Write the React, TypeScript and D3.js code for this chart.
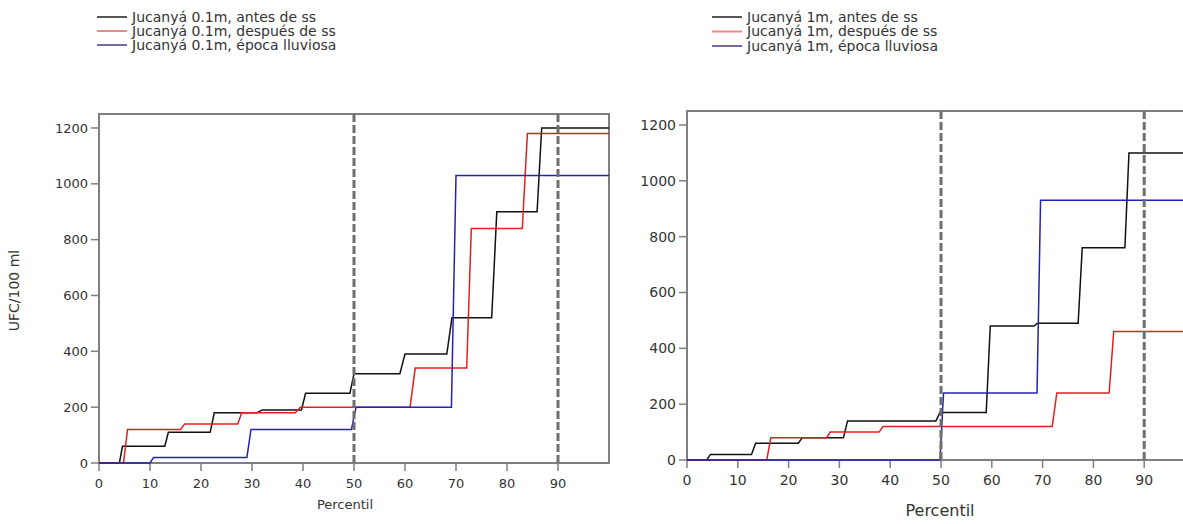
import React from "react";
import * as d3 from "d3";

// percentile breakpoints: [percentil, UFC/100 ml]
const leftAntes: [number, number][] = [[0, 0], [4, 0], [4.6, 60], [12.9, 60], [13.6, 110], [21.8, 110], [22.6, 180], [31, 180], [32, 190], [39.7, 190], [40.5, 250], [49.2, 250], [50, 320], [59, 320], [60, 390], [68.2, 390], [69.2, 520], [77, 520], [78, 900], [85.9, 900], [86.8, 1200], [100, 1200]];
const leftDespues: [number, number][] = [[0, 0], [4.8, 0], [5.6, 120], [16, 120], [16.8, 140], [27.2, 140], [28, 180], [38.5, 180], [39.5, 200], [61, 200], [62, 340], [72.1, 340], [73, 840], [83, 840], [84, 1180], [100, 1180]];
const leftEpoca: [number, number][] = [[0, 0], [10, 0], [10.7, 20], [29, 20], [29.8, 120], [49.5, 120], [50.4, 200], [69.1, 200], [70, 1030], [100, 1030]];

const rightAntes: [number, number][] = [[0, 0], [3.9, 0], [4.6, 20], [12.7, 20], [13.5, 60], [21.9, 60], [22.7, 80], [30.8, 80], [31.6, 140], [49, 140], [49.8, 170], [58.9, 170], [59.7, 480], [68.3, 480], [69, 490], [77, 490], [77.8, 760], [86.2, 760], [87, 1100], [100, 1100]];
const rightDespues: [number, number][] = [[0, 0], [15.7, 0], [16.5, 80], [27.5, 80], [28.2, 100], [37.8, 100], [38.6, 120], [71.9, 120], [72.8, 240], [83.1, 240], [84, 460], [100, 460]];
const rightEpoca: [number, number][] = [[0, 0], [49.8, 0], [50.5, 240], [68.9, 240], [69.6, 930], [100, 930]];

const leftLabels = ["Jucanyá 0.1m, antes de ss", "Jucanyá 0.1m, después de ss", "Jucanyá 0.1m, época lluviosa"];
const rightLabels = ["Jucanyá 1m, antes de ss", "Jucanyá 1m, después de ss", "Jucanyá 1m, época lluviosa"];

const yTicks = [0, 200, 400, 600, 800, 1000, 1200];
const xTicks = [0, 10, 20, 30, 40, 50, 60, 70, 80, 90];
const refLines = [50, 90];

const lineColors = ["#111111", "#e41e1e", "#2323b4"];
const legendColors = ["#555555", "#e88a8a", "#6f6fa0"];
const font = "DejaVu Sans, Verdana, sans-serif";

type PanelProps = {
  x0: number; x1: number; yb: number; yt: number;
  series: [number, number][][];
  labels: string[];
  legendX: number; legendY: number; legendStep: number; legendSize: number;
  tickSize: number; titleSize: number;
  xLabelX: number; xLabelY: number;
  yLabel?: boolean;
};

function Panel(p: PanelProps) {
  const { x0, x1, yb, yt, series, labels, legendX, legendY, legendStep, legendSize, tickSize, titleSize, xLabelX, xLabelY, yLabel } = p;
  const x = d3.scaleLinear().domain([0, 100]).range([x0, x1]);
  const y = d3.scaleLinear().domain([0, 1250]).range([yb, yt]);
  const line = d3.line<[number, number]>().x(d => x(d[0])).y(d => y(d[1]));

  return (
    <g>
      {/* legend */}
      {labels.map((l, i) => (
        <g key={l}>
          <line x1={legendX} x2={legendX + 30} y1={legendY + i * legendStep} y2={legendY + i * legendStep}
            stroke={legendColors[i]} strokeWidth={2} />
          <text x={legendX + 35} y={legendY + i * legendStep} dy="0.35em" fontSize={legendSize}
            fontFamily={font} fill="#333">{l}</text>
        </g>
      ))}

      {/* frame */}
      <path d={`M${x0},${yb}V${yt}H${x1}V${yb}Z`} fill="none" stroke="#7f7f7f" strokeWidth={2} />

      {yTicks.map(t => (
        <g key={"y" + t}>
          <line x1={x0 - 8} x2={x0} y1={y(t)} y2={y(t)} stroke="#7f7f7f" strokeWidth={1.5} />
          <text x={x0 - 11} y={y(t)} dy="0.35em" textAnchor="end" fontSize={tickSize}
            fontFamily={font} fill="#333">{t}</text>
        </g>
      ))}
      {xTicks.map(t => (
        <g key={"x" + t}>
          <line x1={x(t)} x2={x(t)} y1={yb} y2={yb + 8} stroke="#7f7f7f" strokeWidth={1.5} />
          <text x={x(t)} y={yb + 20} dy="0.35em" textAnchor="middle" fontSize={tickSize}
            fontFamily={font} fill="#333">{t}</text>
        </g>
      ))}

      {series.map((s, i) => (
        <path key={i} d={line(s) || ""} fill="none" stroke={lineColors[i]} strokeWidth={1.5} />
      ))}

      {refLines.map(r => (
        <line key={r} x1={x(r)} x2={x(r)} y1={y(1250)} y2={y(0)} stroke="#6e6e6e"
          strokeWidth={3} strokeDasharray="8,3" />
      ))}

      <text x={xLabelX} y={xLabelY} textAnchor="middle" fontSize={titleSize}
        fontFamily={font} fill="#333">Percentil</text>

      {yLabel && (
        <text transform={`translate(19,${(yb + yt) / 2 + 2}) rotate(-90)`} textAnchor="middle"
          fontSize={14} fontFamily={font} fill="#333">UFC/100 ml</text>
      )}
    </g>
  );
}

export default function App() {
  return (
    <svg width={1183} height={524} style={{ position: "absolute", left: 0, top: 0, background: "#fff" }}>
      <rect width={1183} height={524} fill="#fff" />
      <Panel x0={99} x1={609} yb={463} yt={114} series={[leftAntes, leftDespues, leftEpoca]}
        labels={leftLabels} legendX={97} legendY={17} legendStep={14} legendSize={14}
        tickSize={13} titleSize={13} xLabelX={345} xLabelY={509} yLabel />
      <Panel x0={687} x1={1195} yb={460} yt={111} series={[rightAntes, rightDespues, rightEpoca]}
        labels={rightLabels} legendX={712} legendY={17} legendStep={14.5} legendSize={14}
        tickSize={14} titleSize={16} xLabelX={940} xLabelY={516} />
    </svg>
  );
}
